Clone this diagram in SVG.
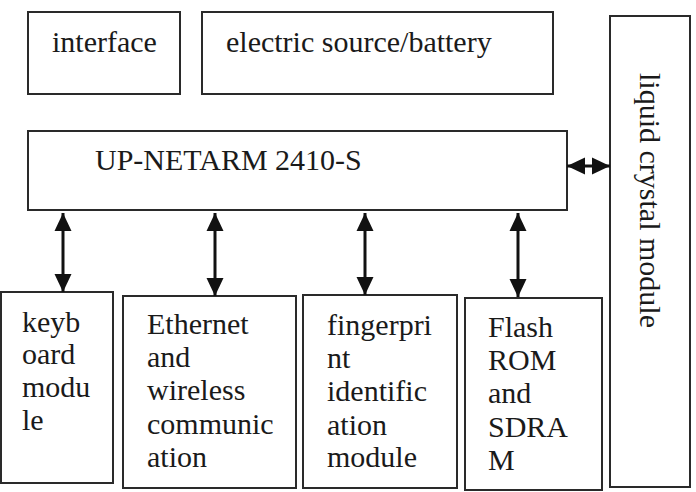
<svg xmlns="http://www.w3.org/2000/svg" width="696" height="492" viewBox="0 0 696 492">
<style>
rect{fill:#fff;stroke:#2a2a2a;stroke-width:2}
text{font-family:"Liberation Serif","Times New Roman",serif;font-size:30px;fill:#1a1a1a}
.c line{stroke:#111;stroke-width:3;marker-start:url(#ah);marker-end:url(#ah)}
</style>
<defs>
<marker id="ah" viewBox="0 0 18 18" refX="18" refY="9" markerWidth="18" markerHeight="18" markerUnits="userSpaceOnUse" orient="auto-start-reverse">
<path d="M0,0.5 L18,9 L0,17.5 z" fill="#111"/>
</marker>
</defs>
<rect x="0" y="0" width="696" height="492" style="stroke:none"/>
<g id="interface"><rect x="28" y="12" width="152" height="82"/><text x="52" y="52">interface</text></g>
<g id="battery"><rect x="202" y="12" width="351" height="82"/><text x="226" y="52">electric source/battery</text></g>
<g id="lcd"><rect x="610" y="16" width="80" height="471"/><text transform="translate(640,73) rotate(90)">liquid crystal module</text></g>
<g id="cpu"><rect x="28" y="131" width="539" height="79"/><text x="95" y="170">UP-NETARM 2410-S</text></g>
<g id="keyboard"><rect x="1" y="292" width="112" height="191"/>
<text x="22" y="332">keyb</text><text x="22" y="364">oard</text><text x="22" y="397">modu</text><text x="22" y="430">le</text></g>
<g id="ethernet"><rect x="123" y="296" width="173" height="192"/>
<text x="147" y="334">Ethernet</text><text x="147" y="367">and</text><text x="147" y="400">wireless</text><text x="147" y="434">communic</text><text x="147" y="467">ation</text></g>
<g id="fingerprint"><rect x="303" y="295" width="154" height="193"/>
<text x="327" y="335">fingerpri</text><text x="327" y="368">nt</text><text x="327" y="401">identific</text><text x="327" y="435">ation</text><text x="327" y="467">module</text></g>
<g id="flash"><rect x="465" y="298" width="137" height="192"/>
<text x="488" y="337">Flash</text><text x="488" y="370">ROM</text><text x="488" y="403">and</text><text x="488" y="437">SDRA</text><text x="488" y="470">M</text></g>
<g class="c" id="connectors">
<line x1="63" y1="213" x2="63" y2="292"/>
<line x1="215" y1="213" x2="215" y2="296"/>
<line x1="365" y1="213" x2="365" y2="295"/>
<line x1="518" y1="213" x2="518" y2="297"/>
<line x1="567" y1="166" x2="610" y2="166"/>
</g>
</svg>
